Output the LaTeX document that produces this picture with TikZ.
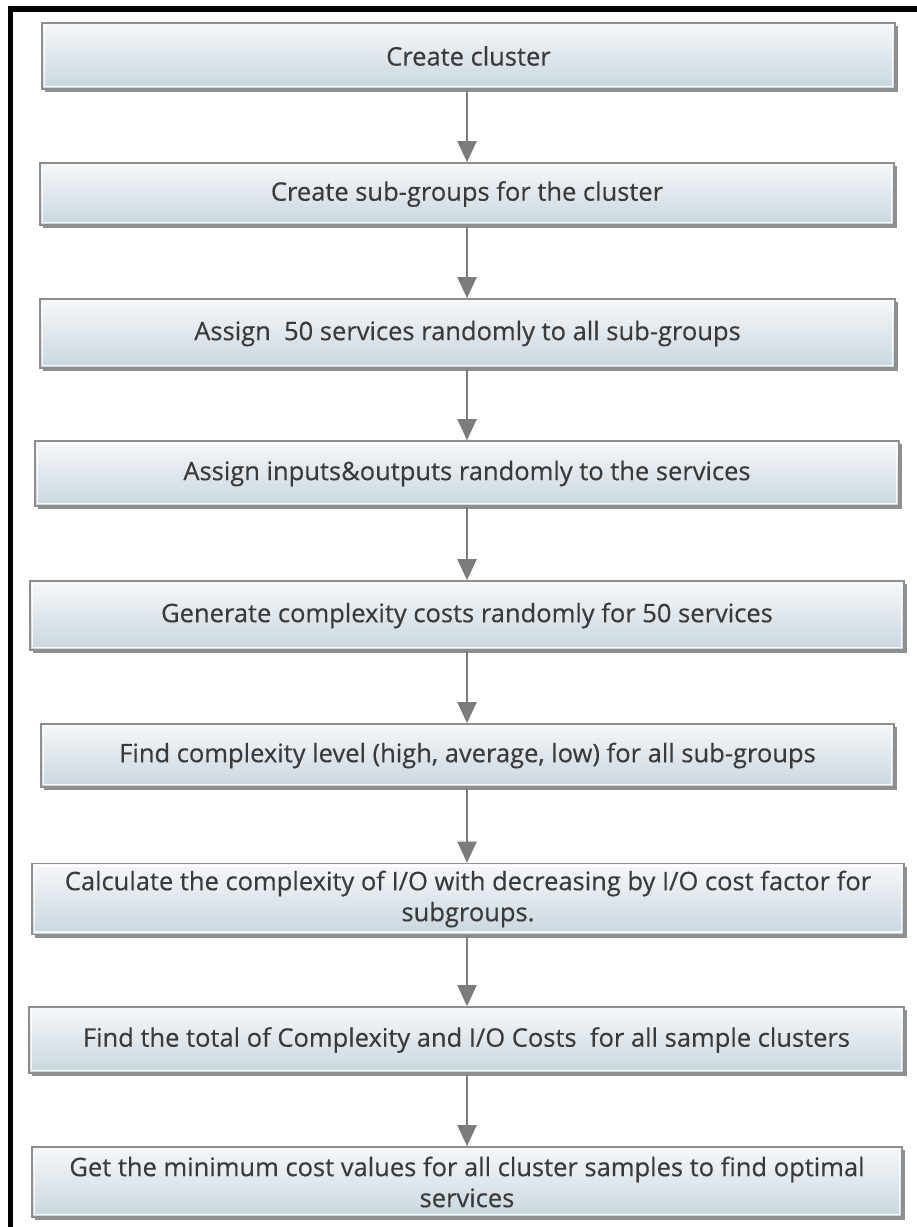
\documentclass[tikz,border=0pt]{standalone}
\usepackage{fontspec}
\setmainfont{Open Sans}
\newfontfamily\boxfont{Open Sans}[FakeBold=0.4]
\usetikzlibrary{arrows.meta,shadows}
\definecolor{boxline}{HTML}{8E8E8E}
\definecolor{boxtop}{HTML}{F6F8FA}
\definecolor{boxbot}{HTML}{C9D6DF}
\definecolor{txt}{HTML}{3A3A3A}
\definecolor{arrowgray}{HTML}{7C7C7C}
\begin{document}
\begin{tikzpicture}[x=1pt,y=-1pt,
  stepbox/.style={draw=boxline, line width=1.6pt, top color=boxtop, bottom color=boxbot,
    text=txt, font=\boxfont\fontsize{25.5}{31}\selectfont, align=center, inner sep=0pt,
    drop shadow={shadow xshift=2.5pt, shadow yshift=-3pt, fill=black!55, opacity=0.8},
    path picture={\draw[white, line width=1.2pt, opacity=0.85]
      ([shift={(2.5pt,-2.5pt)}]path picture bounding box.north west) rectangle
      ([shift={(-2.5pt,2.5pt)}]path picture bounding box.south east);}},
  flow/.style={draw=arrowgray, line width=2pt, -{Triangle[width=19pt,length=21pt]}}]
\useasboundingbox (0,0) rectangle (917,1227);
% outer frame (top and left edges)
\draw[line width=6pt] (8,9) -- (917,9);
\draw[line width=5pt] (10.5,6) -- (10.5,1227);
% steps
\node[stepbox, minimum width=853, minimum height=66] (b1) at (468.5,56) {Create cluster};
\node[stepbox, minimum width=854, minimum height=62] (b2) at (467,194) {Create sub-groups for the cluster};
\node[stepbox, minimum width=855, minimum height=69] (b3) at (467.5,333.5) {Assign\ \ 50 services randomly to all sub-groups};
\node[stepbox, minimum width=864, minimum height=65] (b4) at (467,473.5) {Assign inputs\&outputs randomly to the services};
\node[stepbox, minimum width=874, minimum height=69] (b5) at (467,615.5) {Generate complexity costs randomly for 50 services};
\node[stepbox, minimum width=853, minimum height=63] (b6) at (467.5,755.5) {Find complexity level (high, average, low) for all sub-groups};
\node[stepbox, minimum width=872, minimum height=71] (b7) at (468,899) {Calculate the complexity of I/O with decreasing by I/O cost factor for\\subgroups.};
\node[stepbox, minimum width=875, minimum height=66] (b8) at (466.5,1040) {Find the total of Complexity and I/O Costs\ \ for all sample clusters};
\node[stepbox, minimum width=870, minimum height=70] (b9) at (467,1182) {Get the minimum cost values for all cluster samples to find optimal\\services};
% connectors
\coordinate (ax) at (467,0);
\foreach \a/\b in {b1/b2,b2/b3,b3/b4,b4/b5,b5/b6,b6/b7,b7/b8,b8/b9}
  \draw[flow] (\a.south -| ax) -- (\b.north -| ax);
\end{tikzpicture}
\end{document}
